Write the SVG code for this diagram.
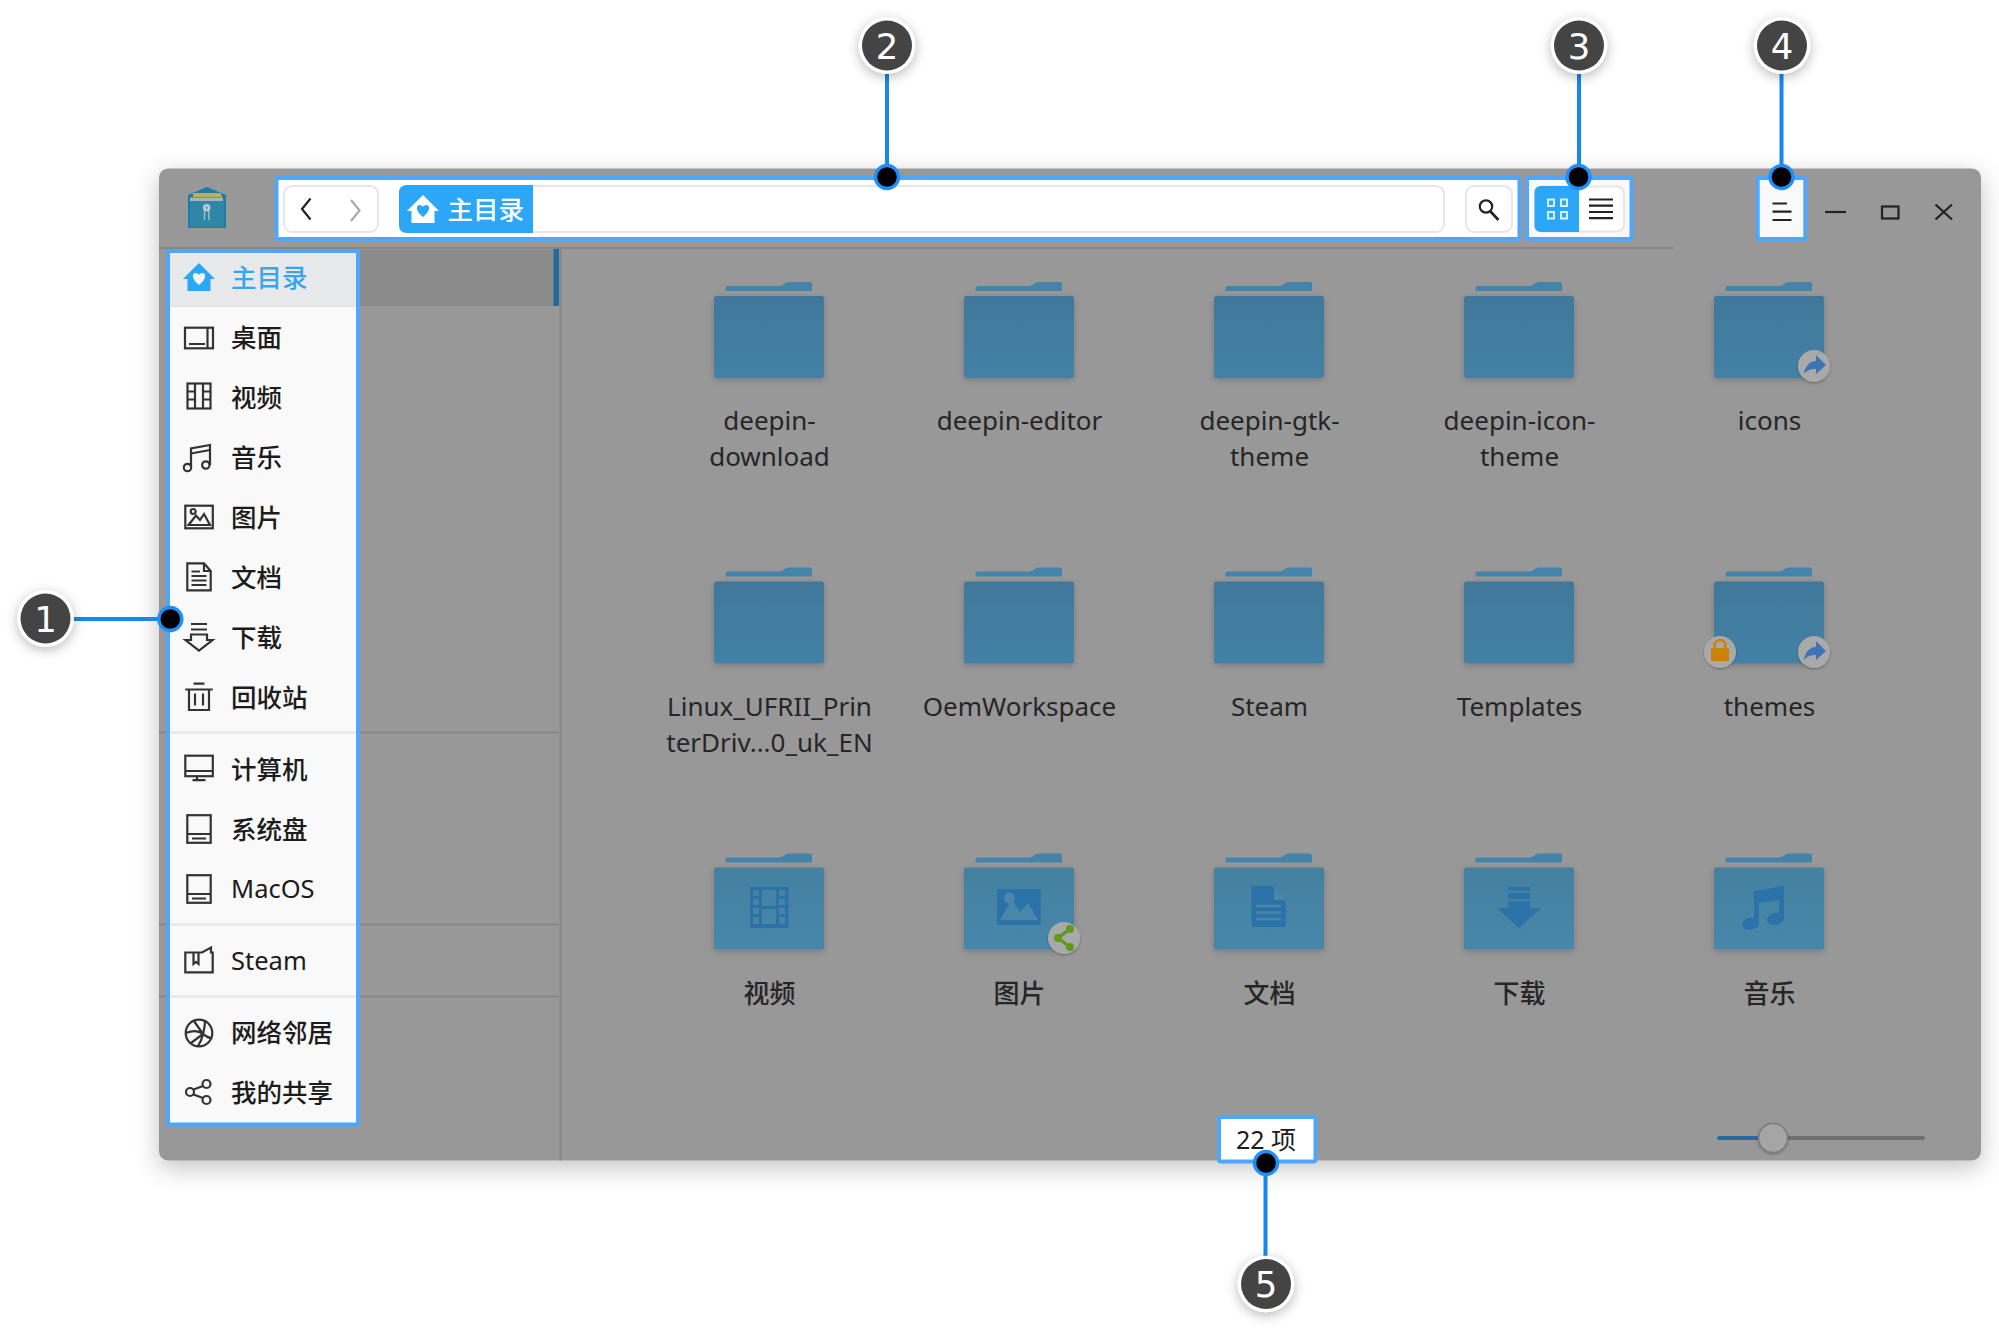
<svg xmlns="http://www.w3.org/2000/svg" xmlns:xlink="http://www.w3.org/1999/xlink" width="1999" height="1330" viewBox="0 0 1999 1330">
<style>
text{font-family:"Noto Sans","Noto Sans CJK SC",sans-serif;font-size:26px;fill:#1c1c1c}
.side{font-size:25.5px}
.cjk{font-weight:500}
.lab{fill:#262626;text-anchor:middle}
.ic{fill:none;stroke:#333;stroke-width:2.2}
.box{fill:#fff;stroke:#4fa7fd;stroke-width:4}
.btn{fill:#fff;stroke:#e6e6e6;stroke-width:2}
.tool{fill:none;stroke:#222;stroke-width:2.2}
.conn{stroke:#1787f0;stroke-width:4;fill:none}
.dot{fill:#000;stroke:#1e8ffb;stroke-width:3.4}
.ring{fill:#fff;filter:url(#soft)}
.disc{fill:#444}
.num{font-family:"DejaVu Sans",sans-serif;font-size:35.5px;fill:#fff;text-anchor:middle}
.mark{fill:#2a72a8}
.badge{fill:#a9a9a9;filter:url(#bshadow)}
.rule{stroke:#868686;stroke-width:2}
.rulew{stroke:#e3e3e3;stroke-width:2}
</style>
<defs>
<filter id="win" x="-5%" y="-5%" width="110%" height="112%"><feDropShadow dx="0" dy="7" stdDeviation="12" flood-color="#000" flood-opacity=".24"/></filter>
<filter id="soft" x="-40%" y="-40%" width="180%" height="190%"><feDropShadow dx="0" dy="3" stdDeviation="6" flood-color="#000" flood-opacity=".28"/></filter>
<filter id="fshadow" x="-15%" y="-15%" width="130%" height="140%"><feDropShadow dx="0" dy="2" stdDeviation="3" flood-color="#000" flood-opacity=".2"/></filter>
<filter id="bshadow" x="-30%" y="-30%" width="160%" height="170%"><feDropShadow dx="0" dy="1" stdDeviation="1.2" flood-color="#000" flood-opacity=".3"/></filter>
<linearGradient id="fbody" x1="0" y1="0" x2="0" y2="1"><stop offset="0" stop-color="#41789a"/><stop offset="1" stop-color="#4381a5"/></linearGradient>
<linearGradient id="fbody3" x1="0" y1="0" x2="0" y2="1"><stop offset="0" stop-color="#44809f"/><stop offset="1" stop-color="#4787ab"/></linearGradient>
<path id="ftab" d="M-43.5 -5V-8Q-43.5 -10 -41 -10H10Q13 -10 15 -12Q17 -14 20 -14H41Q43 -14 43 -12V-5Z" fill="#4484aa"/>
<g id="folder">
<use xlink:href="#ftab"/>
<rect x="-55" y="0" width="110" height="82" rx="2.5" fill="url(#fbody)" filter="url(#fshadow)"/>
</g>
<g id="folder3">
<use xlink:href="#ftab"/>
<rect x="-55" y="0" width="110" height="82" rx="2.5" fill="url(#fbody3)" filter="url(#fshadow)"/>
</g>
<g id="home"><path d="M0 -14L16 2H11.5V14H-11.5V2H-16Z"/></g>
<path id="heart" d="M0 8C-8 2 -7 -4 -3.5 -4C-1.5 -4 -.5 -3 0 -2C.5 -3 1.5 -4 3.5 -4C7 -4 8 2 0 8Z"/>
<g id="disk"><rect x="-11.7" y="-13.8" width="23.4" height="27.6" class="ic"/><path class="ic" d="M-11.7 5H11.7M-7 9.5H7"/></g>
<g id="arrowbadge"><circle r="16" class="badge"/><path d="M-10 8C-9 -1 -3 -5 2 -5V-11L12 -1L2 8V3C-3 3 -7 4 -10 8Z" fill="#3d74b5"/></g>
</defs>
<rect width="1999" height="1330" fill="#fff"/>

<g id="window">
<rect x="159" y="168.500" width="1822" height="992" rx="9" fill="#989898" filter="url(#win)"/>
<rect x="170" y="250" width="388" height="56" fill="#8b8b8b"/>
<rect x="553.500" y="249" width="5.500" height="57" fill="#256a9a"/>
<path class="rule" d="M159 248H1673M560.500 249V1160.500M159 732.500H559M159 924.500H559M159 996.500H559"/>
</g>

<g id="app-logo">
<path d="M188 195L207 187L226 195V228H188Z" fill="#1d7ba6"/>
<path d="M193 193H221L222 197H193Z" fill="#c3ab5e"/>
<path d="M190 197.500H223V201H190Z" fill="#a9b4b6"/>
<rect x="190" y="201" width="34" height="26" fill="#2f86a6"/>
<circle cx="206.700" cy="207.700" r="3.800" fill="#b6cbd3"/><circle cx="206.700" cy="207.700" r="1.300" fill="#6a9fb3"/>
<path d="M204.500 211V220M208.800 211V220" stroke="#a7c1ca" stroke-width="1.300"/>
</g>

<g id="folder-deepin-download"><use xlink:href="#folder" x="769" y="296"/><text class="lab" x="769.500" y="430">deepin-</text><text class="lab" x="769.500" y="466">download</text></g>
<g id="folder-deepin-editor"><use xlink:href="#folder" x="1019" y="296"/><text class="lab" x="1019.500" y="430">deepin-editor</text></g>
<g id="folder-deepin-gtk-theme"><use xlink:href="#folder" x="1269" y="296"/><text class="lab" x="1269.500" y="430">deepin-gtk-</text><text class="lab" x="1269.500" y="466">theme</text></g>
<g id="folder-deepin-icon-theme"><use xlink:href="#folder" x="1519" y="296"/><text class="lab" x="1519.500" y="430">deepin-icon-</text><text class="lab" x="1519.500" y="466">theme</text></g>
<g id="folder-icons"><use xlink:href="#folder" x="1769" y="296"/><use xlink:href="#arrowbadge" x="1814" y="366"/><text class="lab" x="1769.500" y="430">icons</text></g>

<g id="folder-linux"><use xlink:href="#folder" x="769" y="581.500"/><text class="lab" x="769.500" y="716">Linux_UFRII_Prin</text><text class="lab" x="769.500" y="752">terDriv...0_uk_EN</text></g>
<g id="folder-oem"><use xlink:href="#folder" x="1019" y="581.500"/><text class="lab" x="1019.500" y="716">OemWorkspace</text></g>
<g id="folder-steam"><use xlink:href="#folder" x="1269" y="581.500"/><text class="lab" x="1269.500" y="716">Steam</text></g>
<g id="folder-templates"><use xlink:href="#folder" x="1519" y="581.500"/><text class="lab" x="1519.500" y="716">Templates</text></g>
<g id="folder-themes"><use xlink:href="#folder" x="1769" y="581.500"/>
<circle cx="1720" cy="652" r="16" class="badge"/>
<rect x="1711" y="648" width="18" height="13" rx="1" fill="#c9830a"/>
<path d="M1714.500 649V645.500A5.500 5.500 0 0 1 1725.500 645.500V649" fill="none" stroke="#c9830a" stroke-width="2.400"/>
<use xlink:href="#arrowbadge" x="1814" y="652"/>
<text class="lab" x="1769.500" y="716">themes</text></g>

<g id="folder-video"><use xlink:href="#folder3" x="769" y="867.500"/>
<path class="mark" fill-rule="evenodd" d="M750 887H788.500V928H750ZM753 890V896H759V890ZM753 899V905H759V899ZM753 908V914H759V908ZM753 917V924H759V917ZM762 890V906H776V890ZM762 909V924H776V909ZM779 890V896H785V890ZM779 899V905H785V899ZM779 908V914H785V908ZM779 917V924H785V917Z"/>
<text class="lab cjk" x="769.500" y="1003">视频</text></g>
<g id="folder-pictures"><use xlink:href="#folder3" x="1019" y="867.500"/>
<path class="mark" d="M997 889H1040.700V925H997Z"/>
<path d="M1000 920L1012 900L1020 912L1028 903L1038 920Z" fill="#4a86aa"/><circle cx="1009.500" cy="898" r="5.500" fill="#4a86aa"/>
<circle cx="1064" cy="938" r="16" class="badge"/>
<path d="M1070 929L1058 938L1070 947" fill="none" stroke="#5f9a1c" stroke-width="3.400"/><circle cx="1070" cy="929" r="4" fill="#5f9a1c"/><circle cx="1058" cy="938" r="4" fill="#5f9a1c"/><circle cx="1070" cy="947" r="4" fill="#5f9a1c"/>
<text class="lab cjk" x="1019.500" y="1003">图片</text></g>
<g id="folder-documents"><use xlink:href="#folder3" x="1269" y="867.500"/>
<path class="mark" d="M1251.500 886H1272L1285.800 902V927H1251.500Z"/><path d="M1274 886L1285.800 900H1274Z" fill="#4a86aa"/>
<path d="M1256 906H1281M1256 912.500H1281M1256 919H1281" stroke="#4a86aa" stroke-width="2.600"/>
<text class="lab cjk" x="1269.500" y="1003">文档</text></g>
<g id="folder-downloads"><use xlink:href="#folder3" x="1519" y="867.500"/>
<path class="mark" d="M1508 887H1530V890.500H1508ZM1508 893H1530V899H1508ZM1508 901.500H1530V908H1541L1519 928L1496.700 908H1508Z"/>
<text class="lab cjk" x="1519.500" y="1003">下载</text></g>
<g id="folder-music"><use xlink:href="#folder3" x="1769" y="867.500"/>
<path class="mark" d="M1754 891L1784 886V918A8.500 6 -10 1 1 1779 913V900L1759 903V923A8.500 6 -10 1 1 1754 918Z"/>
<text class="lab cjk" x="1769.500" y="1003">音乐</text></g>

<g id="statusbar-slider">
<path d="M1719 1138H1773" stroke="#256ca0" stroke-width="4" stroke-linecap="round"/>
<path d="M1773 1138H1923" stroke="#6e6e6e" stroke-width="4" stroke-linecap="round"/>
<circle cx="1773" cy="1138" r="14.500" fill="#a5a5a5" stroke="#7d7d7d" stroke-width="1.500" filter="url(#bshadow)"/>
</g>

<g id="window-controls">
<path class="tool" d="M1825 212H1846"/>
<rect class="tool" x="1882" y="206.500" width="16.500" height="12"/>
<path class="tool" d="M1935.500 204.500L1952 219.500M1952 204.500L1935.500 219.500"/>
</g>

<g id="area-sidebar">
<rect class="box" x="168" y="251" width="190" height="873.500" rx="2" style="fill:#f9f9f9"/>
<rect x="170" y="253" width="186" height="52" fill="#e8e9ea"/>
<path class="rulew" d="M170 306H356M170 732.500H356M170 924.500H356M170 996.500H356"/>
<g id="side-home"><use xlink:href="#home" x="199" y="277" fill="#2ca7f8"/><use xlink:href="#heart" x="199" y="277" fill="#f2f7fb"/><text class="side cjk" x="231" y="287" style="fill:#3aa4ee">主目录</text></g>
<g id="side-desktop" transform="translate(199 338)"><rect class="ic" x="-14" y="-10.300" width="28" height="20.600"/><path class="ic" d="M8.500 -10.300V10.300M-10 6H6"/><text class="side cjk" x="32" y="9">桌面</text></g>
<g id="side-video" transform="translate(199 396)"><rect class="ic" x="-11.500" y="-12.500" width="23" height="25"/><path class="ic" d="M-4 -12.500V12.500M4 -12.500V12.500M-11.500 -4.500H-4M-11.500 3.500H-4M4 -4.500H11.500M4 3.500H11.500"/><text class="side cjk" x="32" y="11">视频</text></g>
<g id="side-music" transform="translate(199 458)"><circle class="ic" cx="-11.500" cy="9.500" r="3.700"/><circle class="ic" cx="6.800" cy="7" r="3.700"/><path class="ic" d="M-8 9V-9.500L11 -13V7M-8 -4.500L11 -8"/><text class="side cjk" x="32" y="9">音乐</text></g>
<g id="side-pictures" transform="translate(199 517)"><rect class="ic" x="-13.700" y="-11.300" width="27.500" height="22.600"/><circle class="ic" cx="-5.800" cy="-5.500" r="2.500"/><path class="ic" d="M-10.500 8L-3 -1.500L1 3L5 -3L11 8Z"/><text class="side cjk" x="32" y="10">图片</text></g>
<g id="side-documents" transform="translate(199 577)"><path class="ic" d="M-11.700 -13.700H5L11.700 -6V13.300H-11.700ZM5 -13.700V-6H11.700"/><path class="ic" d="M-7.500 -1H7.500M-7.500 3.500H7.500M-7.500 8H7.500M-7.500 -5.500H1"/><text class="side cjk" x="32" y="10">文档</text></g>
<g id="side-downloads" transform="translate(199 637)"><path class="ic" d="M-8 -13H8M-8 -7.500H8M-8 -2.500H8V3H13.500L0 13.500L-13.500 3H-8Z"/><text class="side cjk" x="32" y="10">下载</text></g>
<g id="side-trash" transform="translate(199 697)"><path class="ic" d="M-5.500 -13.300H5.500M-13.700 -7.500H13.700M-10 -7.500V13H10V-7.500M-4 -3.500V8.500M4 -3.500V8.500"/><text class="side cjk" x="32" y="10">回收站</text></g>
<g id="side-computer" transform="translate(199 768)"><rect class="ic" x="-13.700" y="-12.300" width="27.500" height="20.500"/><path class="ic" d="M-13.700 3H13.700M-2 8.200V12M-6.500 12.200H6.500"/><text class="side cjk" x="32" y="11">计算机</text></g>
<g id="side-sysdisk"><use xlink:href="#disk" x="199" y="829"/><text class="side cjk" x="231" y="839">系统盘</text></g>
<g id="side-macos"><use xlink:href="#disk" x="199" y="889"/><text class="side" x="231" y="898">MacOS</text></g>
<g id="side-steam" transform="translate(199 960)"><path class="ic" d="M-13.700 -7.500H3L12 -12.500V-7.500H13.700V12.300H-13.700ZM-5.500 -7.500V4L-3 2L-.5 4V-7.500"/><text class="side" x="32" y="10">Steam</text></g>
<g id="side-network" transform="translate(199 1033)"><circle class="ic" r="13.300"/><path class="ic" d="M-5 -12L4 1L-8 10M-13 0C-6 -3 -1 -3 4 1C8 4 11 5 12 5M6 -12C6 -6 5 -3 4 1C3 6 1 10 -1 13"/><text class="side cjk" x="32" y="9">网络邻居</text></g>
<g id="side-share" transform="translate(199 1092)"><path class="ic" d="M-5.500 -2.500L4 -6M-5.500 2.500L4 6"/><circle class="ic" cx="-9" cy="0" r="4"/><circle class="ic" cx="7.500" cy="-8" r="4"/><circle class="ic" cx="7.500" cy="8" r="4"/><text class="side cjk" x="32" y="10">我的共享</text></g>
</g>

<g id="area-addressbar">
<rect class="box" x="276.500" y="178" width="1243" height="61" rx="2"/>
<rect class="btn" x="284" y="186" width="94" height="46" rx="8"/>
<path d="M310.500 198.500L302 209L310.500 219.500" fill="none" stroke="#222" stroke-width="2.200"/>
<path d="M351 200L359.500 210.500L351 221" fill="none" stroke="#aaa" stroke-width="2.200"/>
<rect class="btn" x="400" y="186" width="1044" height="46" rx="8"/>
<path d="M533 185H407Q399 185 399 193V225Q399 233 407 233H533Z" fill="#2ca7f8"/>
<use xlink:href="#home" x="423" y="209" fill="#fff"/><use xlink:href="#heart" x="423" y="209" fill="#2ca7f8"/>
<text class="cjk" x="447.500" y="219" style="fill:#fff;font-size:25.500px">主目录</text>
<rect class="btn" x="1466" y="186" width="46" height="46" rx="8"/>
<circle cx="1486" cy="206.500" r="6.200" fill="none" stroke="#222" stroke-width="2.200"/>
<path d="M1490.500 211.500L1498.500 220" stroke="#222" stroke-width="2.600"/>
</g>

<g id="area-viewswitch">
<rect class="box" x="1527" y="178" width="104.500" height="61" rx="2" style="fill:#f9f9f9"/>
<rect class="btn" x="1535" y="186.500" width="89" height="45" rx="7"/>
<path d="M1579 186H1541Q1534.500 186 1534.500 192.500V225.500Q1534.500 232 1541 232H1579Z" fill="#2ca7f8"/>
<path fill="none" stroke="#d5f0ff" stroke-width="2" d="M1548 199.500h6v6.500h-6zM1561 199.500h6v6.500h-6zM1548 212h6v6.500h-6zM1561 212h6v6.500h-6z"/>
<path class="tool" d="M1589 199.500H1613M1589 205.700H1613M1589 212H1613M1589 218.200H1613"/>
</g>

<g id="area-menu">
<rect class="box" x="1757.700" y="178" width="47.600" height="61" rx="2" style="fill:#f9f9f9"/>
<path class="tool" d="M1772.500 203.500H1787M1772.500 211.700H1791.500M1772.500 220H1791.500"/>
</g>

<g id="area-itemcount">
<rect class="box" x="1219" y="1117" width="96.500" height="44.500" rx="2"/>
<text class="cjk" x="1266" y="1149" text-anchor="middle" style="font-size:25px;font-weight:400">22 项</text>
</g>

<g id="connectors">
<path class="conn" d="M74 619H170"/>
<path class="conn" d="M887 74V177"/>
<path class="conn" d="M1579 74V177"/>
<path class="conn" d="M1781.500 74V177"/>
<path class="conn" d="M1265.500 1163V1257"/>
<circle class="dot" cx="170.300" cy="619" r="11.500"/>
<circle class="dot" cx="887" cy="177" r="11.500"/>
<circle class="dot" cx="1578.500" cy="177" r="11.500"/>
<circle class="dot" cx="1781.500" cy="177" r="11.500"/>
<circle class="dot" cx="1266" cy="1163" r="11.500"/>
</g>

<g id="callout-1"><circle class="ring" cx="45.500" cy="618.500" r="28.300"/><circle class="disc" cx="45.500" cy="618.500" r="25"/><text class="num" x="45.500" y="631.500">1</text></g>
<g id="callout-2"><circle class="ring" cx="887" cy="45.500" r="28.300"/><circle class="disc" cx="887" cy="45.500" r="25"/><text class="num" x="887" y="58.500">2</text></g>
<g id="callout-3"><circle class="ring" cx="1579" cy="45.500" r="28.300"/><circle class="disc" cx="1579" cy="45.500" r="25"/><text class="num" x="1579" y="58.500">3</text></g>
<g id="callout-4"><circle class="ring" cx="1782" cy="45.500" r="28.300"/><circle class="disc" cx="1782" cy="45.500" r="25"/><text class="num" x="1782" y="58.500">4</text></g>
<g id="callout-5"><circle class="ring" cx="1266" cy="1284" r="28.300"/><circle class="disc" cx="1266" cy="1284" r="25"/><text class="num" x="1266" y="1297">5</text></g>
</svg>
